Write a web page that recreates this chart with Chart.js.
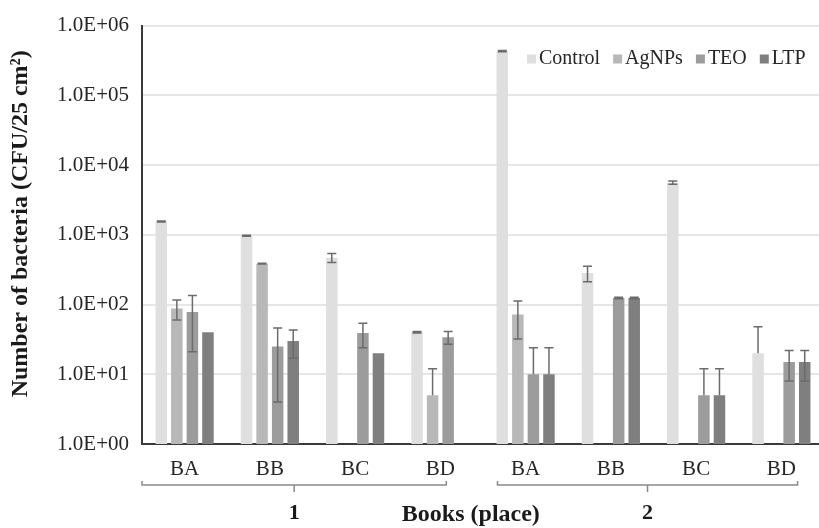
<!DOCTYPE html>
<html>
<head>
<meta charset="utf-8">
<script src="https://cdn.jsdelivr.net/npm/chart.js@4.4.1/dist/chart.umd.min.js"></script>
<style>
  html, body { margin: 0; padding: 0; background: #fff; overflow: hidden; }
  #wrap { width: 824px; height: 528px; position: relative; }
</style>
</head>
<body>
<div id="wrap"><canvas id="bacteriaChart"></canvas></div>
<script>
// ----- Data -----
const categories = ["BA", "BB", "BC", "BD", "BA", "BB", "BC", "BD"];
const groupLabels = ["1", "2"];
// bracket extents, in category units
const groupStart = [-0.5, 3.67];
const groupEnd = [3.07, 7.19];

const seriesNames = ["Control", "AgNPs", "TEO", "LTP"];
const control = [1550, 970, 470, 40, 430000, 283, 5600, 20];
const agnps   = [88, 385, null, 5, 72, null, null, null];
const teo     = [78, 25, 39, 34, 10, 124, 5, 15];
const ltp     = [40, 30, 20, null, 10, 124, 5, 15];

const controlErr = [30, 15, 70, 1, 8000, 70, 300, 28];
const agnpsErr   = [28, 5, null, 7, 40, null, null, null];
const teoErr     = [57, 21, 15, 7, 14, 3, 7, 7];
const ltpErr     = [0, 13, 0, null, 14, 3, 7, 7];

const tickValues = [1, 10, 100, 1000, 10000, 100000, 1000000];
const tickLabels = ["1.0E+00", "1.0E+01", "1.0E+02", "1.0E+03", "1.0E+04", "1.0E+05", "1.0E+06"];

const yTitle = "Number of bacteria (CFU/25 cm²)";
const xTitle = "Books (place)";

const colors = ["#dfdfdf", "#b8b8b8", "#9c9c9d", "#7f7f80"];
const SERIF = "'Liberation Serif', 'Times New Roman', serif";

// ----- Error bars -----
const errorBarPlugin = {
  id: "errorBars",
  afterDatasetsDraw(chart) {
    const { ctx, scales: { y } } = chart;
    ctx.save();
    ctx.strokeStyle = "#6b6b6b";
    ctx.lineWidth = 1.5;
    chart.data.datasets.forEach((ds, i) => {
      const meta = chart.getDatasetMeta(i);
      meta.data.forEach((bar, j) => {
        const v = ds.data[j];
        const e = ds.errors[j];
        if (v == null || !e) return;
        const yTop = y.getPixelForValue(v + e);
        const hasLow = v - e > y.min;
        const yBot = hasLow ? y.getPixelForValue(v - e) : y.getPixelForValue(v);
        const x = bar.x;
        ctx.beginPath();
        ctx.moveTo(x, yTop);
        ctx.lineTo(x, yBot);
        ctx.moveTo(x - 4.5, yTop);
        ctx.lineTo(x + 4.5, yTop);
        if (hasLow) {
          ctx.moveTo(x - 4.5, yBot);
          ctx.lineTo(x + 4.5, yBot);
        }
        ctx.stroke();
      });
    });
    ctx.restore();
  }
};

// ----- Legend, axis titles + group brackets -----
const decorPlugin = {
  id: "decor",
  afterDraw(chart) {
    const { ctx, chartArea, scales: { x } } = chart;
    ctx.save();

    // legend inside plot, top right
    ctx.font = "20px " + SERIF;
    ctx.textBaseline = "middle";
    let lx = 527;
    const ly = 59;
    seriesNames.forEach((name, i) => {
      ctx.fillStyle = colors[i];
      ctx.fillRect(lx, ly - 4.5, 9, 9);
      ctx.fillStyle = "#262626";
      ctx.fillText(name, lx + 12, ly);
      lx += 12 + ctx.measureText(name).width + 13;
    });

    // y title (sits a little above the plot centre, like the original)
    ctx.save();
    ctx.translate(21, (chartArea.top + chartArea.bottom) / 2 - 11);
    ctx.rotate(-Math.PI / 2);
    ctx.textAlign = "center";
    ctx.fillStyle = "#1a1a1a";
    ctx.font = "bold 24px " + SERIF;
    ctx.fillText(yTitle, 0, 0);
    ctx.restore();

    // brackets under the categories
    const step = x.getPixelForValue(1) - x.getPixelForValue(0);
    const px = (v) => x.getPixelForValue(0) + v * step;
    const by = chartArea.bottom + 41;
    ctx.strokeStyle = "#8a8a8a";
    ctx.lineWidth = 1.5;
    ctx.fillStyle = "#1a1a1a";
    ctx.font = "bold 22px " + SERIF;
    ctx.textAlign = "center";
    const centers = [];
    groupLabels.forEach((g, i) => {
      const x0 = px(groupStart[i]);
      const x1 = px(groupEnd[i]);
      const xc = (x0 + x1) / 2;
      centers.push(xc);
      ctx.beginPath();
      ctx.moveTo(x0, by - 4);
      ctx.lineTo(x0, by);
      ctx.lineTo(x1, by);
      ctx.lineTo(x1, by - 4);
      ctx.moveTo(xc, by);
      ctx.lineTo(xc, by + 7);
      ctx.stroke();
      ctx.fillText(g, xc, by + 28);
    });
    ctx.font = "bold 24px " + SERIF;
    ctx.fillText(xTitle, (centers[0] + centers[1]) / 2, by + 30);
    ctx.restore();
  }
};

// ----- Chart -----
const mk = (i, data, errors) => ({
  label: seriesNames[i],
  data,
  errors,
  backgroundColor: colors[i],
  borderWidth: 0,
  categoryPercentage: 0.73,
  barPercentage: 0.74
});

new Chart(document.getElementById("bacteriaChart"), {
  type: "bar",
  data: {
    labels: categories,
    datasets: [
      mk(0, control, controlErr),
      mk(1, agnps, agnpsErr),
      mk(2, teo, teoErr),
      mk(3, ltp, ltpErr)
    ]
  },
  options: {
    animation: false,
    responsive: true,
    maintainAspectRatio: false,
    layout: { padding: { top: 24, right: 0, bottom: 0, left: 0 } },
    plugins: { legend: { display: false }, tooltip: { enabled: false } },
    scales: {
      x: {
        grid: { display: false, drawTicks: false },
        border: { color: "#3a3a3a", width: 2 },
        ticks: { color: "#262626", font: { family: SERIF, size: 21 }, padding: 13, maxRotation: 0 },
        afterFit: (s) => { s.height = 84; }
      },
      y: {
        type: "logarithmic",
        min: 1,
        max: 1000000,
        afterBuildTicks: (s) => { s.ticks = tickValues.map((v) => ({ value: v })); },
        grid: { color: "#e6e6e6", lineWidth: 2, drawTicks: false },
        border: { color: "#3a3a3a", width: 2 },
        ticks: {
          color: "#262626",
          font: { family: SERIF, size: 21 },
          padding: 13,
          callback: (v) => tickLabels[tickValues.indexOf(v)]
        },
        afterFit: (s) => { s.width = 142; }
      }
    }
  },
  plugins: [errorBarPlugin, decorPlugin]
});
</script>
</body>
</html>
